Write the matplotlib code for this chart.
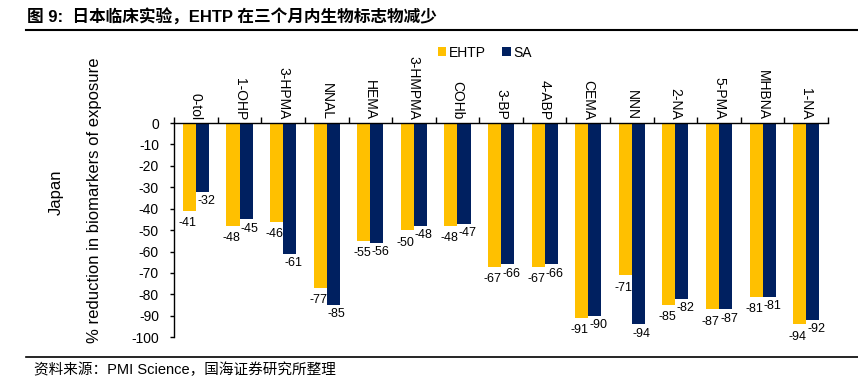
import numpy as np
import matplotlib.pyplot as plt
from matplotlib.lines import Line2D

plt.rcParams['font.family'] = ['Liberation Sans', 'Noto Sans CJK SC', 'DejaVu Sans']

# Data
categories = ['0-tol', '1-OHP', '3-HPMA', 'NNAL', 'HEMA', '3-HMPMA', 'COHb', '3-BP',
              '4-ABP', 'CEMA', 'NNN', '2-NA', '5-PMA', 'MHBNA', '1-NA']
ehtp = [-41, -48, -46, -77, -55, -50, -48, -67, -67, -91, -71, -85, -87, -81, -94]
sa = [-32, -45, -61, -85, -56, -48, -47, -66, -66, -90, -94, -82, -87, -81, -92]
yticks = list(range(0, -101, -10))

c_ehtp = '#FFC000'
c_sa = '#002060'

fig = plt.figure(figsize=(8.58, 3.81), dpi=100)
ax = fig.add_axes([0.203, 0.115, 0.762, 0.562])

x = np.arange(len(categories))
w = 0.3
ax.bar(x - w / 2, ehtp, w, color=c_ehtp, label='EHTP')
ax.bar(x + w / 2, sa, w, color=c_sa, label='SA')

# value labels below the bar ends
for xi, v in zip(x, ehtp):
    ax.text(xi - w / 2 - 0.04, v - 3, str(v), ha='center', va='top', fontsize=9)
for xi, v in zip(x, sa):
    ax.text(xi + w / 2 + 0.08, v - 1.5, str(v), ha='center', va='top', fontsize=9)

ax.set_xlim(-0.5, len(categories) - 0.5)
ax.set_ylim(-100, 0)
ax.set_yticks(yticks)
ax.set_yticklabels([str(t) for t in yticks], fontsize=10)
ax.tick_params(axis='y', length=3, width=1, direction='out', pad=8)

# category boundaries as ticks on the zero line, names rotated above
ax.xaxis.set_ticks_position('top')
ax.set_xticks(np.arange(-0.5, len(categories) - 0.4, 1.0))
ax.set_xticklabels([])
ax.tick_params(axis='x', length=4, width=1, direction='out')
for xi, name in zip(x, categories):
    ax.text(xi, 1.5, name, rotation=270, ha='center', va='bottom',
            fontsize=10, clip_on=False)

for s in ['right', 'bottom']:
    ax.spines[s].set_visible(False)
ax.spines['left'].set_linewidth(1)
ax.spines['top'].set_linewidth(1)

fig.legend(loc='center', bbox_to_anchor=(0.565, 0.862), ncol=2, frameon=False,
           fontsize=10, handlelength=0.6, handleheight=0.6, handletextpad=0.2,
           columnspacing=1.2)

fig.text(0.066, 0.495, 'Japan', rotation=90, ha='center', va='center', fontsize=12)
fig.text(0.11, 0.475, '% reduction in biomarkers of exposure', rotation=90,
         ha='center', va='center', fontsize=12)

fig.text(0.032, 0.955, '图 9:  日本临床实验，EHTP 在三个月内生物标志物减少',
         fontsize=12, fontweight='bold', va='center', ha='left')
fig.text(0.04, 0.03, '资料来源：PMI Science，国海证券研究所整理',
         fontsize=10.5, va='center', ha='left')
fig.add_artist(Line2D([0.03, 1.0], [0.921, 0.921], color='black', lw=1.5))
fig.add_artist(Line2D([0.03, 1.0], [0.063, 0.063], color='black', lw=1.2))

fig.savefig('out.png', dpi=100)
